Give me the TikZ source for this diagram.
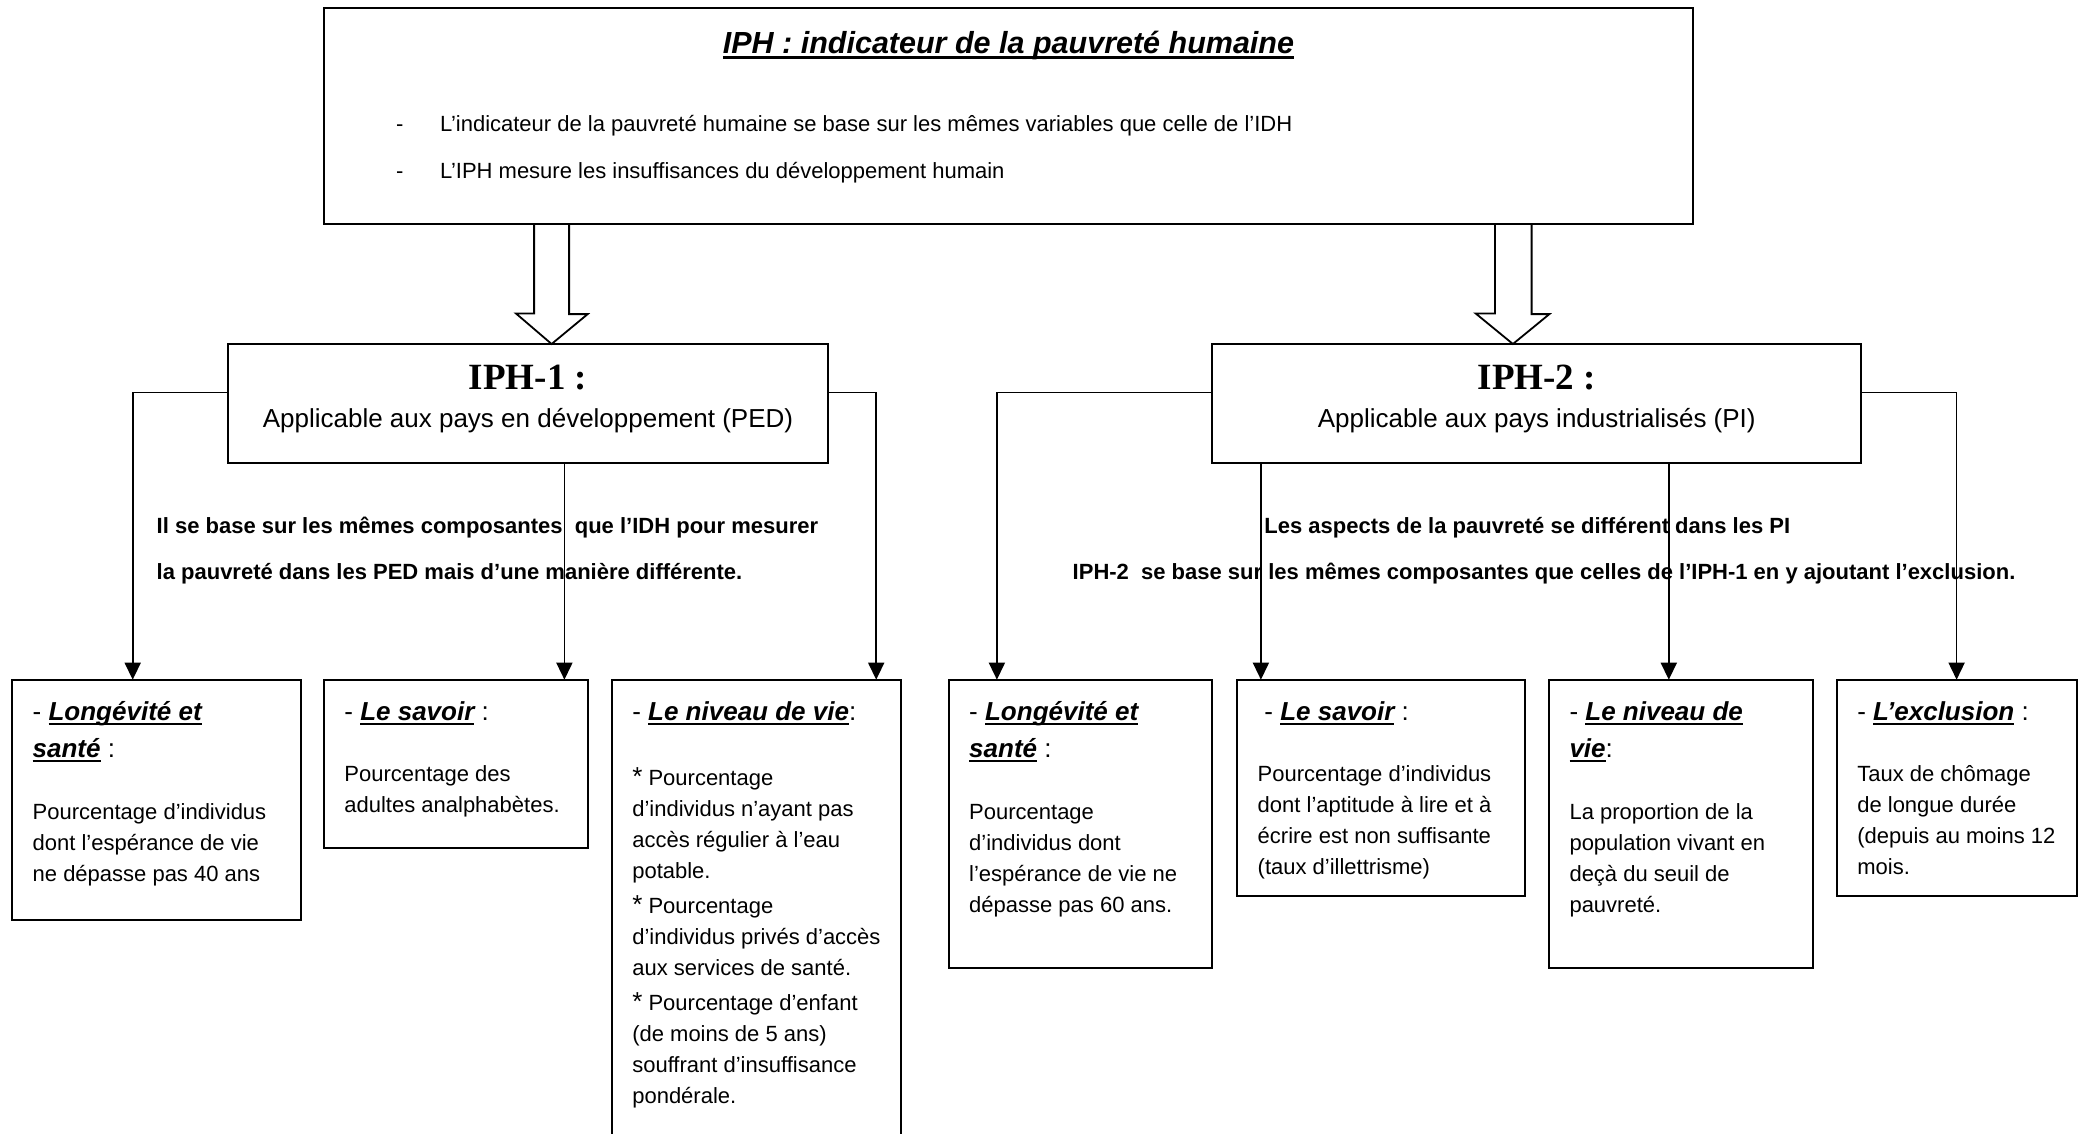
\documentclass[tikz,border=0pt]{standalone}
\usepackage{fontspec}
\setmainfont{Liberation Sans}
\newfontfamily\timesfont{Liberation Serif}
\usetikzlibrary{arrows.meta,calc}
\newcommand\myul[1]{\setbox0\hbox{#1}\rlap{\rule[-0.17em]{\wd0}{0.08em}}\box0\relax}
\newcommand\hd[1]{\myul{\bfseries\itshape #1}}
\newcommand\bodyfont{\fontsize{22}{31}\selectfont}
\newcommand\hdfont{\fontsize{26}{36.5}\selectfont}
\newcommand\bstar{{\fontsize{26}{31}\selectfont *}~}
\begin{document}
\begin{tikzpicture}[x=1pt,y=-1pt,
  box/.style={draw, line width=2pt, inner sep=0pt, outer sep=0pt, anchor=north west},
  conn/.style={line width=1.6pt, -{Triangle[width=16pt,length=17pt]}},
  hollow/.style={line width=1.8pt, line join=miter},
  txt/.style={inner sep=0pt, anchor=base west, align=left},
  ctxt/.style={inner sep=0pt, anchor=base}]
\useasboundingbox (0,0) rectangle (2078,1134);
\clip (0,0) rectangle (2078,1134);

% top box
\node[box, minimum width=1369.6pt, minimum height=216.35pt] (top) at (323.7,7.65) {};
\node[ctxt] (title) at (1008.5,53.5) {\fontsize{30.5}{36}\selectfont\hd{IPH : indicateur de la pauvreté humaine}};
\node[txt, font=\bodyfont] (d1) at (396,131.8) {-};
\node[txt, font=\bodyfont] (t1) at (439.8,131.8) {L’indicateur de la pauvreté humaine se base sur les mêmes variables que celle de l’IDH};
\node[txt, font=\bodyfont] (d2) at (396,178.2) {-};
\node[txt, font=\bodyfont] (t2) at (439.8,178.2) {L’IPH mesure les insuffisances du développement humain};

% level 2 boxes
\node[box, minimum width=600.9pt, minimum height=119.4pt] (iph1) at (227.5,344) {};
\node[ctxt] (iph1t) at (528,389.8) {\timesfont\bfseries\fontsize{37}{40}\selectfont IPH-1 :};
\node[ctxt] (iph1s) at (528,427.6) {\fontsize{26}{30}\selectfont Applicable aux pays en développement (PED)};
\node[box, minimum width=648.7pt, minimum height=119.4pt] (iph2) at (1212.4,344) {};
\node[ctxt] (iph2t) at (1536.75,389.8) {\timesfont\bfseries\fontsize{37}{40}\selectfont IPH-2 :};
\node[ctxt] (iph2s) at (1536.75,427.6) {\fontsize{26}{30}\selectfont Applicable aux pays industrialisés (PI)};

% hollow block arrows
\coordinate (ax1) at (551.6,0);
\coordinate (ax2) at (1512.9,0);
\draw[hollow] ($(top.south -| ax1)+(-17.5,0)$) -- ++(0,89.5) -- ++(-18.1,0) -- (iph1.north -| ax1) -- ++(36.1,-29.9) -- ++(-18.6,0) -- ++(0,-89.5);
\draw[hollow] ($(top.south -| ax2)+(-17.9,0)$) -- ++(0,89.5) -- ++(-19.3,0) -- (iph2.north -| ax2) -- ++(36.5,-29.9) -- ++(-17.8,0) -- ++(0,-89.5);

% bottom boxes
\node[box, minimum width=288.6pt, minimum height=240.7pt] (b1) at (11.9,679.7) {};
\node[box, minimum width=264.6pt, minimum height=168.3pt] (b2) at (323.7,679.7) {};
\node[box, minimum width=289.2pt, minimum height=480pt] (b3) at (611.5,679.7) {};
\node[box, minimum width=263.9pt, minimum height=288.5pt] (b4) at (948.5,679.7) {};
\node[box, minimum width=287.8pt, minimum height=216.2pt] (b5) at (1237,679.7) {};
\node[box, minimum width=264pt, minimum height=288.5pt] (b6) at (1548.7,679.7) {};
\node[box, minimum width=239.5pt, minimum height=216.2pt] (b7) at (1837.2,679.7) {};

% connectors
\coordinate (hy) at (0,392.5);
\coordinate (e2) at ([xshift=240.7pt]b2.north west);
\coordinate (e5) at ([xshift=23.9pt]b5.north west);
\coordinate (e6) at ([xshift=120.1pt]b6.north west);
\draw[conn] (iph1.west |- hy) -| ([xshift=120.8pt]b1.north west);
\draw[conn] (iph1.east |- hy) -| ([xshift=264.7pt]b3.north west);
\draw[conn] (iph1.south -| e2) -- (e2);
\draw[conn] (iph2.west |- hy) -| ([xshift=48.4pt]b4.north west);
\draw[conn] (iph2.east |- hy) -| ([xshift=119.4pt]b7.north west);
\draw[conn] (iph2.south -| e5) -- (e5);
\draw[conn] (iph2.south -| e6) -- (e6);

% bold explanatory texts (multi-line nodes are placed by their last baseline)
\node[txt, font=\bfseries\fontsize{22}{45.8}\selectfont] (p1) at (156.5,579.5) {Il se base sur les mêmes composantes~ que l’IDH pour mesurer\\la pauvreté dans les PED mais d’une manière différente.};
\node[txt, font=\bfseries\fontsize{22}{30}\selectfont] (p2) at (1264.2,533.7) {Les aspects de la pauvreté se différent dans les PI};
\node[txt, font=\bfseries\fontsize{22}{30}\selectfont] (p3) at (1072.5,579.5) {IPH-2~ se base sur les mêmes composantes que celles de l’IPH-1 en y ajoutant l’exclusion.};

% box texts
\node[txt, font=\hdfont] (h1) at (32.5,757.3) {- \hd{Longévité et}\\\hd{santé} :};
\node[txt, font=\bodyfont] (c1) at (32.5,881) {Pourcentage d’individus\\dont l’espérance de vie\\ne dépasse pas 40 ans};

\node[txt, font=\hdfont] (h2) at (344.2,720.8) {- \hd{Le savoir} :};
\node[txt, font=\bodyfont] (c2) at (344.2,812.8) {Pourcentage des\\adultes analphabètes.};

\node[txt, font=\hdfont] (h3) at (632.1,720.8) {- \hd{Le niveau de vie}:};
\node[txt, font=\bodyfont] (c3) at (632.1,1103.8) {\bstar Pourcentage\\d’individus n’ayant pas\\accès régulier à l’eau\\potable.\\[4pt]\bstar Pourcentage\\d’individus privés d’accès\\aux services de santé.\\[4pt]\bstar Pourcentage d’enfant\\(de moins de 5 ans)\\souffrant d’insuffisance\\pondérale.};

\node[txt, font=\hdfont] (h4) at (969,757.3) {- \hd{Longévité et}\\\hd{santé} :};
\node[txt, font=\bodyfont] (c4) at (969,912) {Pourcentage\\d’individus dont\\l’espérance de vie ne\\dépasse pas 60 ans.};

\node[txt, font=\hdfont] (h5) at (1264.2,720.8) {- \hd{Le savoir} :};
\node[txt, font=\bodyfont] (c5) at (1257.5,874.8) {Pourcentage d’individus\\dont l’aptitude à lire et à\\écrire est non suffisante\\(taux d’illettrisme)};

\node[txt, font=\hdfont] (h6) at (1569.3,757.3) {- \hd{Le niveau de}\\\hd{vie}:};
\node[txt, font=\bodyfont] (c6) at (1569.3,912) {La proportion de la\\population vivant en\\deçà du seuil de\\pauvreté.};

\node[txt, font=\hdfont] (h7) at (1857.1,720.8) {- \hd{L’exclusion} :};
\node[txt, font=\bodyfont] (c7) at (1857.1,874.8) {Taux de chômage\\de longue durée\\(depuis au moins 12\\mois.};
\end{tikzpicture}
\end{document}
